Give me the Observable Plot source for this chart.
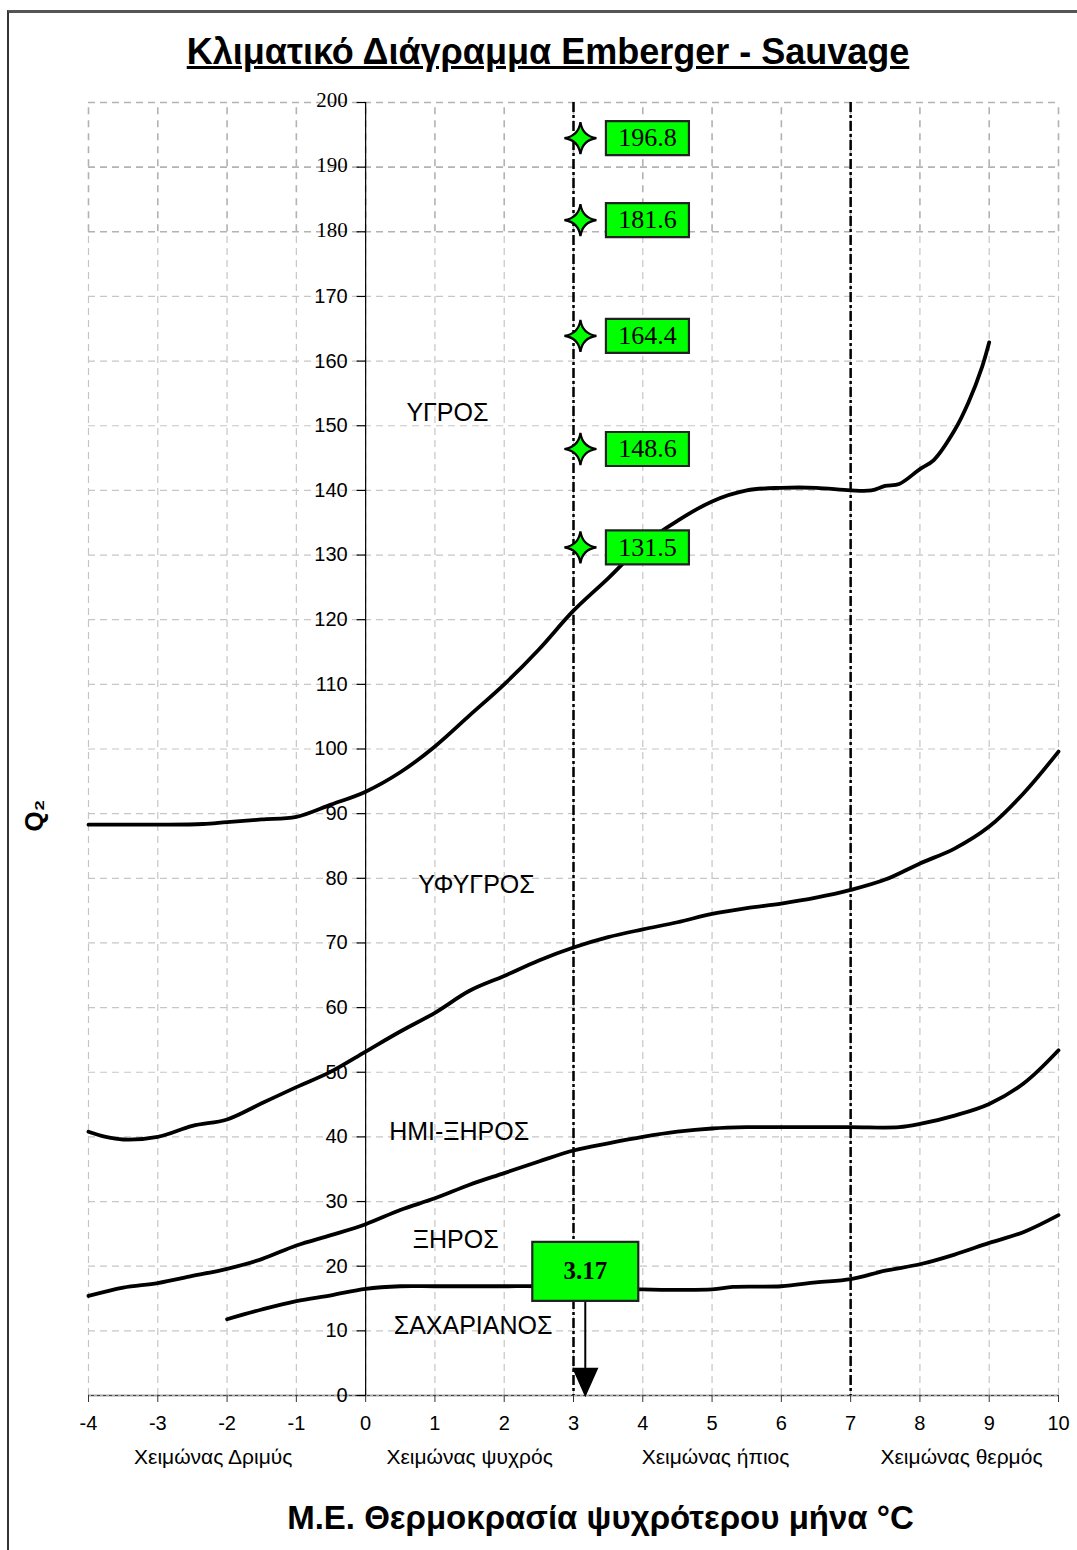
<!DOCTYPE html>
<html>
<head>
<meta charset="utf-8">
<script src="https://cdn.jsdelivr.net/npm/d3@7"></script>
<script src="https://cdn.jsdelivr.net/npm/@observablehq/plot@0.6"></script>
<style>
  body { margin: 0; background: #fff; }
  #page { position: relative; width: 1077px; height: 1550px; overflow: hidden; background: #fff; }
  #frame { position: absolute; left: 7px; top: 10px; right: -5px; bottom: -5px; border-top: 3px solid #555; border-left: 2px solid #333; pointer-events: none; }
  #titlebar { position: relative; height: 90px; }
  #title { position: absolute; left: 548px; top: 31px; transform: translateX(-50%); font: bold 36px "Liberation Sans", Arial, sans-serif; text-decoration: underline; white-space: nowrap; color: #000; }
</style>
</head>
<body>
<div id="page">
  <div id="titlebar"><span id="title">Κλιματικό Διάγραμμα Emberger - Sauvage</span></div>
  <div id="chart"></div>
  <div id="frame"></div>
</div>
<script>
// ---------- data ----------
const xTicks = [-4, -3, -2, -1, 0, 1, 2, 3, 4, 5, 6, 7, 8, 9, 10];
const yTicks = [0, 10, 20, 30, 40, 50, 60, 70, 80, 90, 100, 110, 120, 130, 140, 150, 160, 170, 180, 190, 200];

const winterLabels = ["Χειμώνας Δριμύς", "Χειμώνας ψυχρός", "Χειμώνας ήπιος", "Χειμώνας θερμός"];
const winterT = [-2.2, 1.5, 5.05, 8.6];

const zoneNames = ["ΥΓΡΟΣ", "ΥΦΥΓΡΟΣ", "ΗΜΙ-ΞΗΡΟΣ", "ΞΗΡΟΣ", "ΣΑΧΑΡΙΑΝΟΣ"];
const zoneT = [1.18, 1.6, 1.35, 1.3, 1.55];
const zoneQ = [152, 79, 40.8, 24, 10.7];

// boundary curves (mean temperature of coldest month, Q2)
const humidT = [-4, -3, -2.35, -2, -1.5, -1, -0.5, 0, 0.5, 1, 1.5, 2, 2.5, 3, 3.5, 4, 4.5, 5, 5.5, 6, 6.5, 7, 7.3, 7.5, 7.7, 8, 8.2, 8.5, 8.7, 8.9, 9];
const humidQ = [88.3, 88.3, 88.4, 88.7, 89.1, 89.5, 91.4, 93.4, 96.4, 100.4, 105.2, 110, 115.4, 121.4, 126.4, 131.6, 135.3, 138.3, 140, 140.4, 140.4, 140, 140, 140.7, 141, 143.3, 144.7, 149.3, 153.6, 159.2, 162.9];

const subhumidT = [-4, -3.75, -3.5, -3, -2.5, -2, -1.5, -1, -0.5, 0, 0.5, 1, 1.5, 2, 2.5, 3, 3.5, 4, 4.5, 5, 5.5, 6, 6.5, 7, 7.5, 8, 8.5, 9, 9.5, 10];
const subhumidQ = [40.8, 40, 39.6, 40, 41.7, 42.7, 45.2, 47.7, 50.1, 53.2, 56.3, 59.2, 62.6, 64.9, 67.3, 69.3, 70.9, 72.1, 73.2, 74.5, 75.4, 76.1, 77, 78.2, 79.8, 82.3, 84.6, 88, 93.2, 99.6];

const semiaridT = [-4, -3.5, -3, -2.5, -2, -1.5, -1, -0.5, 0, 0.5, 1, 1.5, 2, 2.5, 3, 3.5, 4, 4.5, 5, 5.5, 6, 7, 7.7, 8, 8.5, 9, 9.5, 10];
const semiaridQ = [15.4, 16.7, 17.4, 18.5, 19.6, 21.1, 23.2, 24.8, 26.5, 28.7, 30.5, 32.6, 34.4, 36.2, 37.9, 39, 40, 40.8, 41.3, 41.5, 41.5, 41.5, 41.5, 42, 43.3, 45.1, 48.3, 53.4];

const aridT = [-2, -1.5, -1, -0.5, 0, 0.5, 1, 2, 2.5, 4, 5, 5.3, 6, 6.5, 7, 7.5, 8, 8.5, 9, 9.5, 10];
const aridQ = [11.8, 13.3, 14.6, 15.5, 16.5, 16.9, 16.9, 16.9, 16.9, 16.4, 16.4, 16.8, 16.9, 17.5, 18, 19.3, 20.3, 21.8, 23.6, 25.3, 27.9];

const limitT = [3, 7];

const stationT = 3.17;
const stationLabel = "3.17";
const stationBoxQ = 19.2;

const starT = 3.1;
const starQ = [194.5, 181.8, 163.9, 146.4, 131.2];
const starLabels = ["196.8", "181.6", "164.4", "148.6", "131.5"];

const yTitle = "Q₂";
const yTitleQ = 89.7;
const xTitle = "Μ.Ε. Θερμοκρασία ψυχρότερου μήνα °C";

// ---------- helpers ----------
const pts = (T, Q) => T.map((t, i) => ({t, q: Q[i]}));
const starSymbol = {draw(c) {
  c.moveTo(0, -16);
  c.quadraticCurveTo(2, -2, 16, 0);
  c.quadraticCurveTo(2, 2, 0, 16);
  c.quadraticCurveTo(-2, 2, -16, 0);
  c.quadraticCurveTo(-2, -2, 0, -16);
  c.closePath();
}};
const labelBox = {draw(c) { c.rect(-41.5, -17, 83, 34); }};
const stationBox = {draw(c) { c.rect(-53, -29.5, 106, 59); }};
const yTickSym = {draw(c) { c.moveTo(-9, 0); c.lineTo(0, 0); }};
const arrowHead = {draw(c) { c.moveTo(0, 0); c.lineTo(-12, -27); c.lineTo(12, -27); c.closePath(); }};

const gridLight = "#c6c6c6";
const gridDark = "#b2b2b2";

const chart = Plot.plot({
  width: 1077,
  height: 1460,
  marginLeft: 88,
  marginRight: 19,
  marginTop: 12,
  marginBottom: 155,
  x: {domain: [-4, 10]},
  y: {domain: [0, 200], axis: null},
  style: {fontFamily: "'Liberation Sans', Arial, sans-serif", fontSize: "20px", background: "white", overflow: "visible"},
  marks: [
    // grid (lower part)
    Plot.ruleX(xTicks, {y1: 0, y2: 180, stroke: gridLight, strokeWidth: 1.2, strokeDasharray: "7,5"}),
    Plot.ruleY(yTicks.filter(v => v > 0 && v < 180), {x1: -4, x2: 10, stroke: gridLight, strokeWidth: 1.2, strokeDasharray: "7,5"}),
    // grid (upper part)
    Plot.ruleX(xTicks, {y1: 180, y2: 200, stroke: gridDark, strokeWidth: 1.6, strokeDasharray: "7,6"}),
    Plot.ruleY(yTicks.filter(v => v >= 180), {x1: -4, x2: 10, stroke: gridDark, strokeWidth: 1.6, strokeDasharray: "7,5"}),
    // axes
    Plot.ruleY([0], {stroke: "#444", strokeWidth: 1.5}),
    Plot.ruleY([0], {stroke: "#aaa", strokeWidth: 1.2, strokeDasharray: "3,3"}),
    Plot.ruleX([0], {stroke: "#000", strokeWidth: 1.2}),
    Plot.axisX({ticks: xTicks, tickSize: 7, tickPadding: 13, tickFormat: d => String(d), label: null, fontSize: 20, stroke: "#333"}),
    Plot.dot(yTicks, {x: 0, y: d => d, symbol: yTickSym, fill: "none", stroke: "#000", strokeWidth: 1.2}),
    Plot.text(yTicks.filter(v => v < 180), {x: 0, y: d => d, text: d => String(d), dx: -18, textAnchor: "end", fontSize: 20}),
    Plot.text(yTicks.filter(v => v >= 180), {x: 0, y: d => d, text: d => String(d), dx: -18, dy: -2, textAnchor: "end", fontSize: 21, fontFamily: "'Liberation Serif', 'Times New Roman', serif"}),
    // category labels under the x axis
    Plot.text(winterLabels, {x: (d, i) => winterT[i], y: 0, text: d => d, dy: 62, fontSize: 21}),
    // climate limits
    Plot.ruleX(limitT, {stroke: "#000", strokeWidth: 2.5, strokeDasharray: "10,3,3,3"}),
    // boundary curves
    Plot.line(pts(humidT, humidQ), {x: "t", y: "q", stroke: "#000", strokeWidth: 3.8, curve: "catmull-rom"}),
    Plot.line(pts(subhumidT, subhumidQ), {x: "t", y: "q", stroke: "#000", strokeWidth: 3.8, curve: "catmull-rom"}),
    Plot.line(pts(semiaridT, semiaridQ), {x: "t", y: "q", stroke: "#000", strokeWidth: 3.8, curve: "catmull-rom"}),
    Plot.line(pts(aridT, aridQ), {x: "t", y: "q", stroke: "#000", strokeWidth: 3.8, curve: "catmull-rom"}),
    // zone names
    Plot.text(zoneNames, {x: (d, i) => zoneT[i], y: (d, i) => zoneQ[i], text: d => d, fontSize: 25}),
    // station arrow and box
    Plot.ruleX([stationT], {y1: stationBoxQ, y2: 2, stroke: "#000", strokeWidth: 2}),
    Plot.dot([stationT], {x: d => d, y: 0, symbol: arrowHead, fill: "#000", stroke: "#000"}),
    Plot.dot([stationT], {x: d => d, y: stationBoxQ, symbol: stationBox, fill: "#00ff00", stroke: "#222", strokeWidth: 2.2}),
    Plot.text([stationLabel], {x: stationT, y: stationBoxQ, text: d => d, fontSize: 25, fontWeight: "bold", fontFamily: "'Liberation Serif', 'Times New Roman', serif"}),
    // Q2 stars with value boxes
    Plot.dot(starQ, {x: starT, y: d => d, symbol: starSymbol, fill: "#00ff00", stroke: "#000", strokeWidth: 2.2}),
    Plot.dot(starQ, {x: starT, y: d => d, dx: 67, symbol: labelBox, fill: "#00ff00", stroke: "#222", strokeWidth: 2.2}),
    Plot.text(starLabels, {x: starT, y: (d, i) => starQ[i], text: d => d, dx: 67, fontSize: 26, fontFamily: "'Liberation Serif', 'Times New Roman', serif"}),
    // axis titles
    Plot.text([yTitle], {x: -4, y: yTitleQ, text: d => d, dx: -54, rotate: -90, fontSize: 26, fontWeight: "bold"}),
    Plot.text([xTitle], {frameAnchor: "bottom", text: d => d, dx: 27, dy: 133, fontSize: 33, fontWeight: "bold"})
  ]
});
document.getElementById("chart").appendChild(chart);
</script>
</body>
</html>
